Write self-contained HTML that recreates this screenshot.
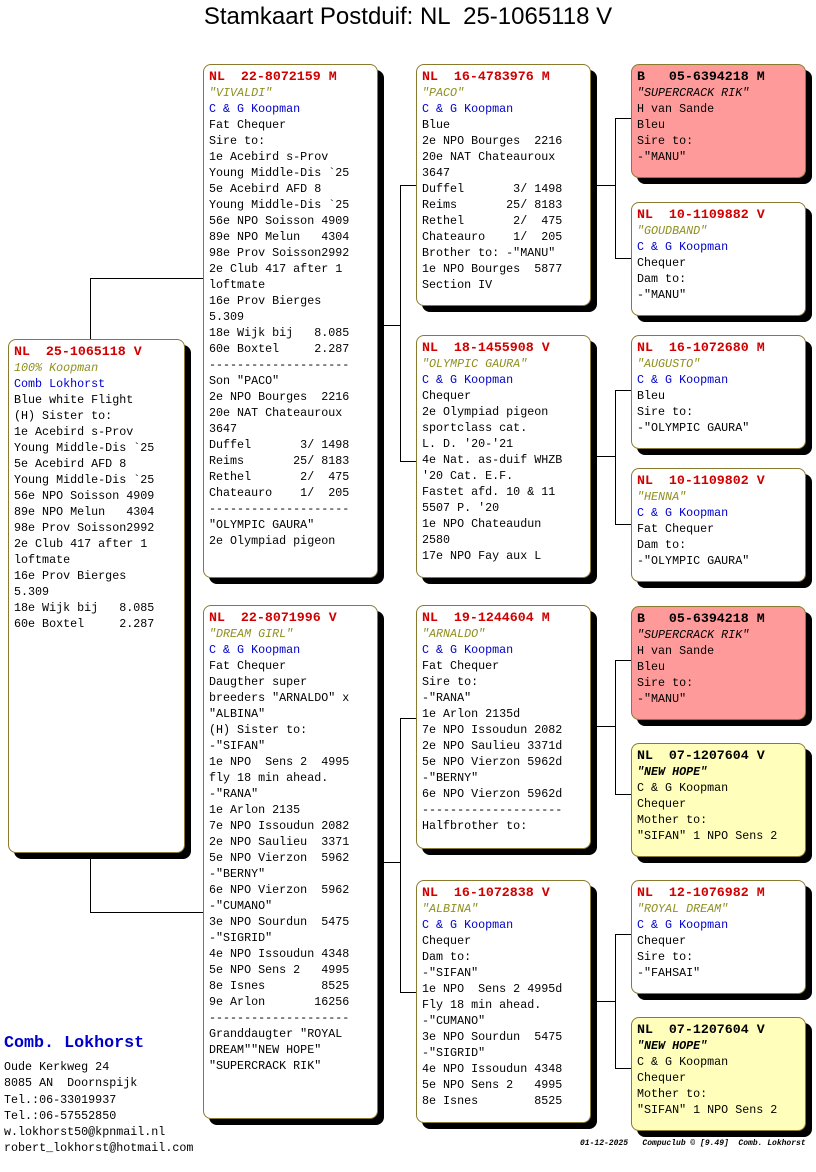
<!DOCTYPE html>
<html><head><meta charset="utf-8"><style>
body{margin:0;background:#fff;width:816px;height:1172px;position:relative;overflow:hidden;font-family:"Liberation Mono",monospace;}
.b{position:absolute;border:1px solid #8a7a2e;border-radius:8px;background:#fff;box-shadow:6px 6px 0 #000;box-sizing:border-box;padding:4px 0 0 5px;font-size:11.7px;line-height:16px;white-space:pre;color:#000;}
.h{font-weight:bold;font-size:13.3px;color:#d00000;}
.n{font-style:italic;color:#8f8f1f;}
.o{color:#0000cc;}
.pk{background:#ff9a9a}.yl{background:#ffffbb}
.pk .h,.yl .h{color:#000}.pk .n,.yl .n{color:#000}.pk .o,.yl .o{color:#000}
.yl .n{font-weight:bold}
.l{position:absolute;background:#000;}
</style></head><body>
<div style="position:absolute;left:0;width:816px;top:3px;text-align:center;font:24px 'Liberation Sans',sans-serif;white-space:pre;">Stamkaart Postduif: NL  25-1065118 V</div>

<!-- connectors -->
<div class="l" style="left:90px;top:278px;width:1px;height:61px"></div>
<div class="l" style="left:90px;top:278px;width:113px;height:1px"></div>
<div class="l" style="left:90px;top:858px;width:1px;height:54px"></div>
<div class="l" style="left:90px;top:912px;width:113px;height:1px"></div>
<div class="l" style="left:383px;top:325px;width:17px;height:1px"></div>
<div class="l" style="left:400px;top:185px;width:1px;height:276px"></div>
<div class="l" style="left:400px;top:185px;width:16px;height:1px"></div>
<div class="l" style="left:400px;top:461px;width:16px;height:1px"></div>
<div class="l" style="left:383px;top:862px;width:17px;height:1px"></div>
<div class="l" style="left:400px;top:718px;width:1px;height:274px"></div>
<div class="l" style="left:400px;top:718px;width:16px;height:1px"></div>
<div class="l" style="left:400px;top:992px;width:16px;height:1px"></div>
<div class="l" style="left:596px;top:185px;width:19px;height:1px"></div>
<div class="l" style="left:615px;top:118px;width:1px;height:140px"></div>
<div class="l" style="left:615px;top:118px;width:16px;height:1px"></div>
<div class="l" style="left:615px;top:258px;width:16px;height:1px"></div>
<div class="l" style="left:596px;top:456px;width:19px;height:1px"></div>
<div class="l" style="left:615px;top:390px;width:1px;height:134px"></div>
<div class="l" style="left:615px;top:390px;width:16px;height:1px"></div>
<div class="l" style="left:615px;top:524px;width:16px;height:1px"></div>
<div class="l" style="left:596px;top:726px;width:19px;height:1px"></div>
<div class="l" style="left:615px;top:660px;width:1px;height:134px"></div>
<div class="l" style="left:615px;top:660px;width:16px;height:1px"></div>
<div class="l" style="left:615px;top:794px;width:16px;height:1px"></div>
<div class="l" style="left:596px;top:1001px;width:19px;height:1px"></div>
<div class="l" style="left:615px;top:934px;width:1px;height:134px"></div>
<div class="l" style="left:615px;top:934px;width:16px;height:1px"></div>
<div class="l" style="left:615px;top:1068px;width:16px;height:1px"></div>

<div class="b" style="left:8px;top:339px;width:177px;height:514px"><span class="h">NL  25-1065118 V</span>
<span class="n">100% Koopman</span>
<span class="o">Comb Lokhorst</span>
Blue white Flight
(H) Sister to:
1e Acebird s-Prov
Young Middle-Dis `25
5e Acebird AFD 8
Young Middle-Dis `25
56e NPO Soisson 4909
89e NPO Melun   4304
98e Prov Soisson2992
2e Club 417 after 1
loftmate
16e Prov Bierges
5.309
18e Wijk bij   8.085
60e Boxtel     2.287</div>

<div class="b" style="left:203px;top:64px;width:175px;height:514px"><span class="h">NL  22-8072159 M</span>
<span class="n">"VIVALDI"</span>
<span class="o">C &amp; G Koopman</span>
Fat Chequer
Sire to:
1e Acebird s-Prov
Young Middle-Dis `25
5e Acebird AFD 8
Young Middle-Dis `25
56e NPO Soisson 4909
89e NPO Melun   4304
98e Prov Soisson2992
2e Club 417 after 1
loftmate
16e Prov Bierges
5.309
18e Wijk bij   8.085
60e Boxtel     2.287
--------------------
Son "PACO"
2e NPO Bourges  2216
20e NAT Chateauroux
3647
Duffel       3/ 1498
Reims       25/ 8183
Rethel       2/  475
Chateauro    1/  205
--------------------
"OLYMPIC GAURA"
2e Olympiad pigeon</div>

<div class="b" style="left:203px;top:605px;width:175px;height:514px"><span class="h">NL  22-8071996 V</span>
<span class="n">"DREAM GIRL"</span>
<span class="o">C &amp; G Koopman</span>
Fat Chequer
Daugther super
breeders "ARNALDO" x
"ALBINA"
(H) Sister to:
-"SIFAN"
1e NPO  Sens 2  4995
fly 18 min ahead.
-"RANA"
1e Arlon 2135
7e NPO Issoudun 2082
2e NPO Saulieu  3371
5e NPO Vierzon  5962
-"BERNY"
6e NPO Vierzon  5962
-"CUMANO"
3e NPO Sourdun  5475
-"SIGRID"
4e NPO Issoudun 4348
5e NPO Sens 2   4995
8e Isnes        8525
9e Arlon       16256
--------------------
Granddaugter "ROYAL
DREAM""NEW HOPE"
"SUPERCRACK RIK"</div>

<div class="b" style="left:416px;top:64px;width:175px;height:242px"><span class="h">NL  16-4783976 M</span>
<span class="n">"PACO"</span>
<span class="o">C &amp; G Koopman</span>
Blue
2e NPO Bourges  2216
20e NAT Chateauroux
3647
Duffel       3/ 1498
Reims       25/ 8183
Rethel       2/  475
Chateauro    1/  205
Brother to: -"MANU"
1e NPO Bourges  5877
Section IV</div>

<div class="b" style="left:416px;top:335px;width:175px;height:243px"><span class="h">NL  18-1455908 V</span>
<span class="n">"OLYMPIC GAURA"</span>
<span class="o">C &amp; G Koopman</span>
Chequer
2e Olympiad pigeon
sportclass cat.
L. D. '20-'21
4e Nat. as-duif WHZB
'20 Cat. E.F.
Fastet afd. 10 &amp; 11
5507 P. '20
1e NPO Chateaudun
2580
17e NPO Fay aux L</div>

<div class="b" style="left:416px;top:605px;width:175px;height:244px"><span class="h">NL  19-1244604 M</span>
<span class="n">"ARNALDO"</span>
<span class="o">C &amp; G Koopman</span>
Fat Chequer
Sire to:
-"RANA"
1e Arlon 2135d
7e NPO Issoudun 2082
2e NPO Saulieu 3371d
5e NPO Vierzon 5962d
-"BERNY"
6e NPO Vierzon 5962d
--------------------
Halfbrother to:</div>

<div class="b" style="left:416px;top:880px;width:175px;height:243px"><span class="h">NL  16-1072838 V</span>
<span class="n">"ALBINA"</span>
<span class="o">C &amp; G Koopman</span>
Chequer
Dam to:
-"SIFAN"
1e NPO  Sens 2 4995d
Fly 18 min ahead.
-"CUMANO"
3e NPO Sourdun  5475
-"SIGRID"
4e NPO Issoudun 4348
5e NPO Sens 2   4995
8e Isnes        8525</div>

<div class="b pk" style="left:631px;top:64px;width:175px;height:114px"><span class="h">B   05-6394218 M</span>
<span class="n">"SUPERCRACK RIK"</span>
<span class="o">H van Sande</span>
Bleu
Sire to:
-"MANU"</div>

<div class="b" style="left:631px;top:202px;width:175px;height:114px"><span class="h">NL  10-1109882 V</span>
<span class="n">"GOUDBAND"</span>
<span class="o">C &amp; G Koopman</span>
Chequer
Dam to:
-"MANU"</div>

<div class="b" style="left:631px;top:335px;width:175px;height:114px"><span class="h">NL  16-1072680 M</span>
<span class="n">"AUGUSTO"</span>
<span class="o">C &amp; G Koopman</span>
Bleu
Sire to:
-"OLYMPIC GAURA"</div>

<div class="b" style="left:631px;top:468px;width:175px;height:114px"><span class="h">NL  10-1109802 V</span>
<span class="n">"HENNA"</span>
<span class="o">C &amp; G Koopman</span>
Fat Chequer
Dam to:
-"OLYMPIC GAURA"</div>

<div class="b pk" style="left:631px;top:606px;width:175px;height:114px"><span class="h">B   05-6394218 M</span>
<span class="n">"SUPERCRACK RIK"</span>
<span class="o">H van Sande</span>
Bleu
Sire to:
-"MANU"</div>

<div class="b yl" style="left:631px;top:743px;width:175px;height:114px"><span class="h">NL  07-1207604 V</span>
<span class="n">"NEW HOPE"</span>
<span class="o">C &amp; G Koopman</span>
Chequer
Mother to:
"SIFAN" 1 NPO Sens 2</div>

<div class="b" style="left:631px;top:880px;width:175px;height:114px"><span class="h">NL  12-1076982 M</span>
<span class="n">"ROYAL DREAM"</span>
<span class="o">C &amp; G Koopman</span>
Chequer
Sire to:
-"FAHSAI"</div>

<div class="b yl" style="left:631px;top:1017px;width:175px;height:114px"><span class="h">NL  07-1207604 V</span>
<span class="n">"NEW HOPE"</span>
<span class="o">C &amp; G Koopman</span>
Chequer
Mother to:
"SIFAN" 1 NPO Sens 2</div>

<div style="position:absolute;left:4px;top:1034px;font-size:16.7px;font-weight:bold;color:#0000cc;">Comb. Lokhorst</div>
<div style="position:absolute;left:4px;top:1059px;font-size:11.7px;line-height:16.3px;white-space:pre;">Oude Kerkweg 24
8085 AN  Doornspijk
Tel.:06-33019937
Tel.:06-57552850
w.lokhorst50@kpnmail.nl
robert_lokhorst@hotmail.com</div>
<div style="position:absolute;left:580px;top:1139px;font-size:8px;font-style:italic;font-weight:bold;white-space:pre;">01-12-2025   Compuclub © [9.49]  Comb. Lokhorst</div>
</body></html>
